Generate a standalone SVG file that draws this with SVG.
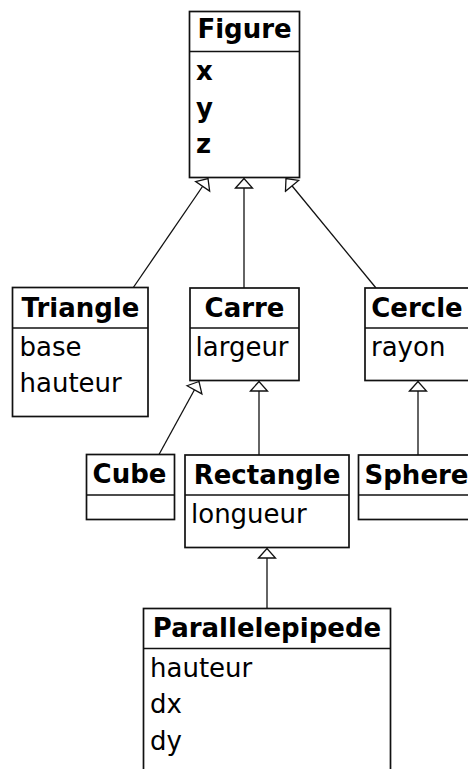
<svg xmlns="http://www.w3.org/2000/svg" width="468" height="769" viewBox="0 0 468 769">
  <style>
    .box { fill: #fff; stroke: #111; stroke-width: 1.7; }
    .sep { stroke: #111; stroke-width: 1.7; }
    .name { font-family: "DejaVu Sans", "Liberation Sans", sans-serif; font-size: 26px; font-weight: bold; fill: #000; text-anchor: middle; }
    .attr { font-family: "DejaVu Sans", "Liberation Sans", sans-serif; font-size: 26px; fill: #000; }
    .attrb { font-weight: bold; }
    .link { fill: none; stroke: #111; stroke-width: 1.3; }
  </style>
  <defs>
    <!-- hollow triangle head for generalisation links -->
    <marker id="gen" viewBox="0 0 12 20" refX="11" refY="10" markerWidth="12" markerHeight="20" markerUnits="userSpaceOnUse" orient="auto">
      <path d="M1.5,1.5 L11,10 L1.5,18.5 Z" fill="#fff" stroke="#111" stroke-width="1.3"/>
    </marker>
  </defs>
  <rect width="468" height="769" fill="#fff"/>

  <g id="connectors">
    <line class="link" x1="133" y1="288" x2="208" y2="178.5" marker-end="url(#gen)"/>
    <line class="link" x1="244" y1="288" x2="244" y2="178.5" marker-end="url(#gen)"/>
    <line class="link" x1="376" y1="288" x2="286" y2="178.5" marker-end="url(#gen)"/>
    <line class="link" x1="159" y1="454.5" x2="199" y2="381.5" marker-end="url(#gen)"/>
    <line class="link" x1="259" y1="455" x2="259" y2="381.5" marker-end="url(#gen)"/>
    <line class="link" x1="418" y1="455" x2="418" y2="381.5" marker-end="url(#gen)"/>
    <line class="link" x1="267" y1="608.5" x2="267" y2="548.5" marker-end="url(#gen)"/>
  </g>

  <g id="figure">
    <rect class="box" x="189.5" y="11.5" width="110" height="166"/>
    <line class="sep" x1="189.5" y1="51.5" x2="299.5" y2="51.5"/>
    <text class="name" x="244.5" y="38">Figure</text>
    <text class="attr attrb" x="196" y="80">x</text>
    <text class="attr attrb" x="196" y="116.5">y</text>
    <text class="attr attrb" x="196" y="153">z</text>
  </g>

  <g id="triangle">
    <rect class="box" x="12.5" y="287.5" width="135.5" height="129"/>
    <line class="sep" x1="12.5" y1="328" x2="148" y2="328"/>
    <text class="name" x="80.5" y="316.5">Triangle</text>
    <text class="attr" x="19.5" y="355.5">base</text>
    <text class="attr" x="19.5" y="392">hauteur</text>
  </g>

  <g id="carre">
    <rect class="box" x="190" y="288" width="109" height="92.5"/>
    <line class="sep" x1="190" y1="328" x2="299" y2="328"/>
    <text class="name" x="244.5" y="316.5">Carre</text>
    <text class="attr" x="195.5" y="356">largeur</text>
  </g>

  <g id="cercle">
    <rect class="box" x="365" y="288" width="104" height="92.5"/>
    <line class="sep" x1="365" y1="328" x2="469" y2="328"/>
    <text class="name" x="417" y="316.5">Cercle</text>
    <text class="attr" x="371" y="356">rayon</text>
  </g>

  <g id="cube">
    <rect class="box" x="86.5" y="454.5" width="88" height="65"/>
    <line class="sep" x1="86.5" y1="495" x2="174.5" y2="495"/>
    <text class="name" x="129.5" y="483">Cube</text>
  </g>

  <g id="rectangle">
    <rect class="box" x="185" y="455" width="164" height="92.5"/>
    <line class="sep" x1="185" y1="495" x2="349" y2="495"/>
    <text class="name" x="267" y="483.5">Rectangle</text>
    <text class="attr" x="191" y="522.5">longueur</text>
  </g>

  <g id="sphere">
    <rect class="box" x="358.5" y="455" width="116" height="64.5"/>
    <line class="sep" x1="358.5" y1="495" x2="474.5" y2="495"/>
    <text class="name" x="416.5" y="483.5">Sphere</text>
  </g>

  <g id="parallelepipede">
    <rect class="box" x="143.5" y="608.5" width="247" height="170"/>
    <line class="sep" x1="143.5" y1="648.5" x2="390.5" y2="648.5"/>
    <text class="name" x="267" y="637">Parallelepipede</text>
    <text class="attr" x="150" y="676.5">hauteur</text>
    <text class="attr" x="150" y="713">dx</text>
    <text class="attr" x="150" y="749.5">dy</text>
  </g>
</svg>
